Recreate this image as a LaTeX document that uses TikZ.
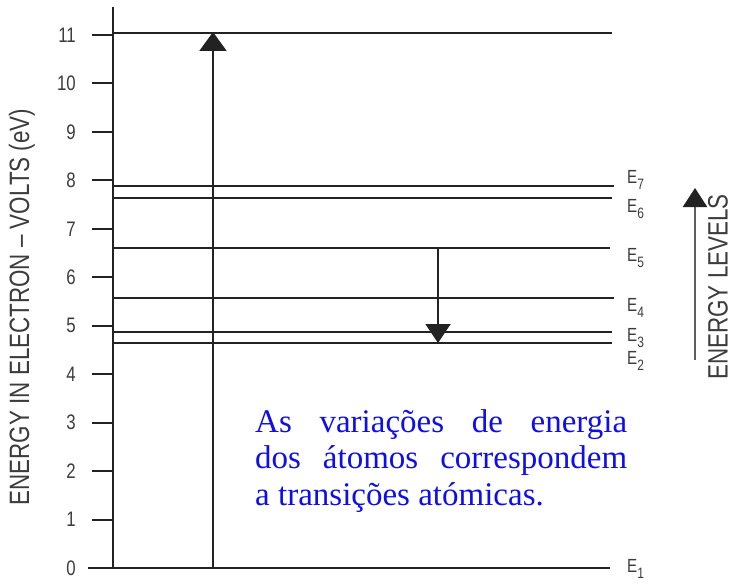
\documentclass[tikz,border=0pt]{standalone}
\usepackage{fontspec}
\setmainfont{Liberation Serif}
\newfontfamily\narrow[FakeStretch=0.8]{Liberation Sans}
\usetikzlibrary{arrows.meta}
\definecolor{lvl}{RGB}{34,34,34}
\definecolor{lab}{RGB}{60,60,60}
\definecolor{shaft}{RGB}{95,95,95}
\definecolor{txtblue}{RGB}{14,14,235}
\newcommand\esubs[1]{\raisebox{-0.3em}{\fontsize{15}{15}\selectfont #1}}
\begin{document}
\begin{tikzpicture}[x=1pt,y=-1pt,
  level/.style={draw=lvl,line width=2.2pt},
  tickmark/.style={draw=lvl,line width=2pt},
  ticklab/.style={anchor=east,text=lab,font=\narrow\fontsize{21}{21}\selectfont,inner sep=0pt},
  elab/.style={anchor=west,text=lab,font=\narrow\fontsize{19}{19}\selectfont,inner sep=0pt},
  axlab/.style={rotate=90,text=lab,font=\narrow\fontsize{28}{28}\selectfont,inner sep=0pt},
  bigtip/.style={-{Triangle[width=27pt,length=19pt]}},
  smalltip/.style={-{Triangle[width=25pt,length=19pt]}}
]
\useasboundingbox (0,0) rectangle (735,583);
% axis
\coordinate (axtop) at (113,7);
\coordinate (axbot) at (113,568);
\draw[level] (axtop) -- (axbot);
\coordinate (b0) at (88,568);
\coordinate (b1) at (610,568);
\draw[level] (b0) -- (b1);
\node[ticklab] (t0) at (76,568) {0};
\foreach \e in {1,...,11}{
  \pgfmathsetmacro{\yy}{568-48.45*\e}
  \coordinate (tk\e) at (92,\yy);
  \coordinate (ta\e) at (113,\yy);
  \draw[tickmark] (tk\e) -- (ta\e);
  \node[ticklab] (t\e) at (76,\yy) {\e};
}
% levels
\coordinate (l11a) at (113,33);  \coordinate (l11b) at (612,33);
\coordinate (l7a) at (113,186);  \coordinate (l7b) at (614,186);
\coordinate (l6a) at (113,198);  \coordinate (l6b) at (612,198);
\coordinate (l5a) at (113,248);  \coordinate (l5b) at (610,248);
\coordinate (l4a) at (113,298);  \coordinate (l4b) at (614,298);
\coordinate (l3a) at (113,332);  \coordinate (l3b) at (612,332);
\coordinate (l2a) at (113,343);  \coordinate (l2b) at (612,343);
\foreach \n in {11,7,6,5,4,3,2}{ \draw[level] (l\n a) -- (l\n b); }
% level labels
\node[elab] (E7) at (627,180) {E\esubs{7}};
\node[elab] (E6) at (627,209) {E\esubs{6}};
\node[elab] (E5) at (627,258) {E\esubs{5}};
\node[elab] (E4) at (627,308) {E\esubs{4}};
\node[elab] (E3) at (627,338) {E\esubs{3}};
\node[elab] (E2) at (627,361) {E\esubs{2}};
\node[elab] (E1) at (627,569) {E\esubs{1}};
% transitions
\coordinate (upbot) at (213,568);
\coordinate (uptop) at (213,32);
\draw[level,bigtip] (upbot) -- (uptop);
\coordinate (dntop) at (438,248);
\coordinate (dnbot) at (438,343);
\draw[level,line width=2pt,smalltip] (dntop) -- (dnbot);
% energy levels arrow
\coordinate (elbot) at (695,360);
\coordinate (eltop) at (695,188);
\draw[draw=shaft,line width=2.4pt,-{Triangle[width=24pt,length=19pt,color=lvl]}] (elbot) -- (eltop);
\node[axlab] (elab) at (718,287) {ENERGY LEVELS};
% axis label
\node[axlab] (ylab) at (22,307) {ENERGY IN ELECTRON – VOLTS (eV)};
% blue text
\node[anchor=base west,inner sep=0pt,align=left,text=txtblue,
      font=\fontsize{33}{36.5}\selectfont] (note) at (255,505)
  {\makebox[372pt][s]{As variações de energia}\\
   \makebox[372pt][s]{dos átomos correspondem}\\
   a transições atómicas.};
\end{tikzpicture}
\end{document}
